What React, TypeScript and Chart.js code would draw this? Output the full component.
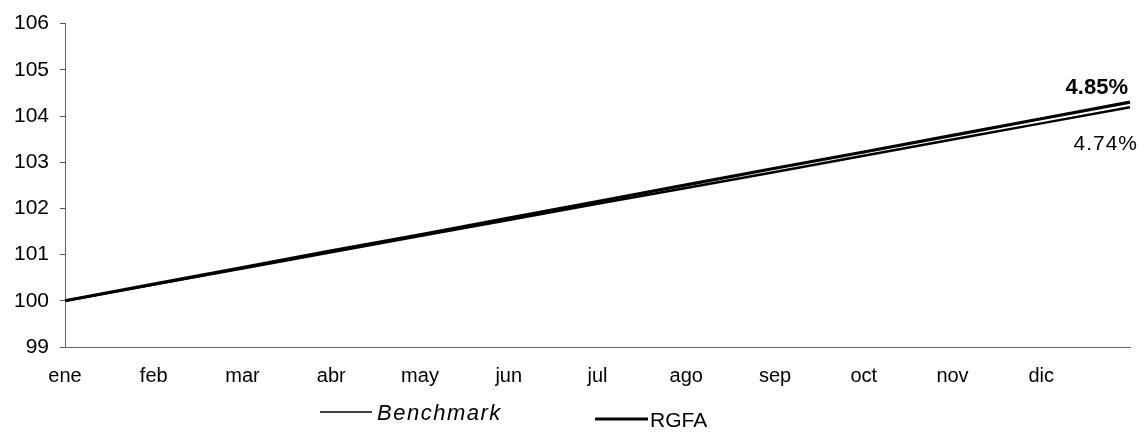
import React, { useEffect, useRef } from "react";
import { Chart, registerables } from "chart.js";

Chart.register(...registerables);

const months = ["ene", "feb", "mar", "abr", "may", "jun", "jul", "ago", "sep", "oct", "nov", "dic", ""];
const benchmark = [100, 100.35, 100.7, 101.05, 101.4, 101.75, 102.1, 102.44, 102.79, 103.14, 103.49, 103.84, 104.19];
const rgfa = [100, 100.36, 100.72, 101.08, 101.43, 101.79, 102.15, 102.51, 102.87, 103.22, 103.58, 103.94, 104.3];
const seriesNames = ["Benchmark", "RGFA"];
const endLabels = ["4.74%", "4.85%"];
const yMin = 99;
const yMax = 106;

const FONT = "'Liberation Sans', Arial, Helvetica, sans-serif";

const overlayPlugin = {
  id: "overlay",
  afterDraw(chart: any) {
    const ctx = chart.ctx as CanvasRenderingContext2D;
    ctx.save();
    const bMeta = chart.getDatasetMeta(0);
    const rMeta = chart.getDatasetMeta(1);
    const bLast = bMeta.data[bMeta.data.length - 1];
    const rLast = rMeta.data[rMeta.data.length - 1];
    ctx.fillStyle = "#000";
    ctx.textAlign = "right";
    ctx.textBaseline = "middle";
    ctx.font = `bold 22px ${FONT}`;
    ctx.fillText(endLabels[1], rLast.x - 2, rLast.y - 14);
    ctx.font = `21px ${FONT}`;
    (ctx as any).letterSpacing = "1px";
    ctx.fillText(endLabels[0], bLast.x + 8, bLast.y + 37);
    (ctx as any).letterSpacing = "0px";

    const area = chart.chartArea;
    const baseY = area.bottom;
    ctx.textAlign = "left";
    ctx.strokeStyle = "#000";
    ctx.lineWidth = 1.5;
    ctx.beginPath();
    ctx.moveTo(320, baseY + 65);
    ctx.lineTo(372, baseY + 65);
    ctx.stroke();
    ctx.font = `italic 22px ${FONT}`;
    (ctx as any).letterSpacing = "1.5px";
    ctx.fillText(seriesNames[0], 377, baseY + 67);
    (ctx as any).letterSpacing = "0px";
    ctx.lineWidth = 3;
    ctx.beginPath();
    ctx.moveTo(595, baseY + 72);
    ctx.lineTo(648, baseY + 72);
    ctx.stroke();
    ctx.font = `21px ${FONT}`;
    ctx.fillText(seriesNames[1], 650, baseY + 74);
    ctx.restore();
  },
};

export default function App() {
  const ref = useRef<HTMLCanvasElement>(null);
  useEffect(() => {
    if (!ref.current) return;
    const chart = new Chart(ref.current, {
      type: "line",
      data: {
        labels: months,
        datasets: [
          {
            label: seriesNames[0],
            data: benchmark,
            borderColor: "#000",
            borderWidth: 2.5,
            pointRadius: 0,
            tension: 0,
          },
          {
            label: seriesNames[1],
            data: rgfa,
            borderColor: "#000",
            borderWidth: 3.2,
            pointRadius: 0,
            tension: 0,
          },
        ],
      },
      options: {
        responsive: false,
        animation: false,
        devicePixelRatio: 1,
        layout: { padding: { top: 17, right: 12, left: 0, bottom: 0 } },
        plugins: { legend: { display: false }, tooltip: { enabled: false } },
        scales: {
          x: {
            type: "category",
            offset: false,
            grid: { display: false, drawTicks: false },
            border: { display: true, color: "#666", width: 1 },
            ticks: {
              color: "#000",
              font: { family: FONT, size: 20 },
              padding: 17,
              maxRotation: 0,
              autoSkip: false,
            },
            afterFit(scale: any) {
              scale.height = 96;
            },
          },
          y: {
            min: yMin,
            max: yMax,
            grid: { drawOnChartArea: false, drawTicks: true, tickLength: 5, color: "#555" },
            border: { display: true, color: "#666", width: 1 },
            ticks: {
              stepSize: 1,
              color: "#000",
              font: { family: FONT, size: 21 },
              padding: 11,
            },
            afterFit(scale: any) {
              scale.width = 65;
            },
          },
        },
      },
      plugins: [overlayPlugin],
    });
    return () => chart.destroy();
  }, []);
  return (
    <div style={{ position: "fixed", left: 0, top: 0, width: 1147, height: 443, background: "#fff" }}>
      <canvas ref={ref} width={1147} height={443} style={{ display: "block" }} />
    </div>
  );
}
